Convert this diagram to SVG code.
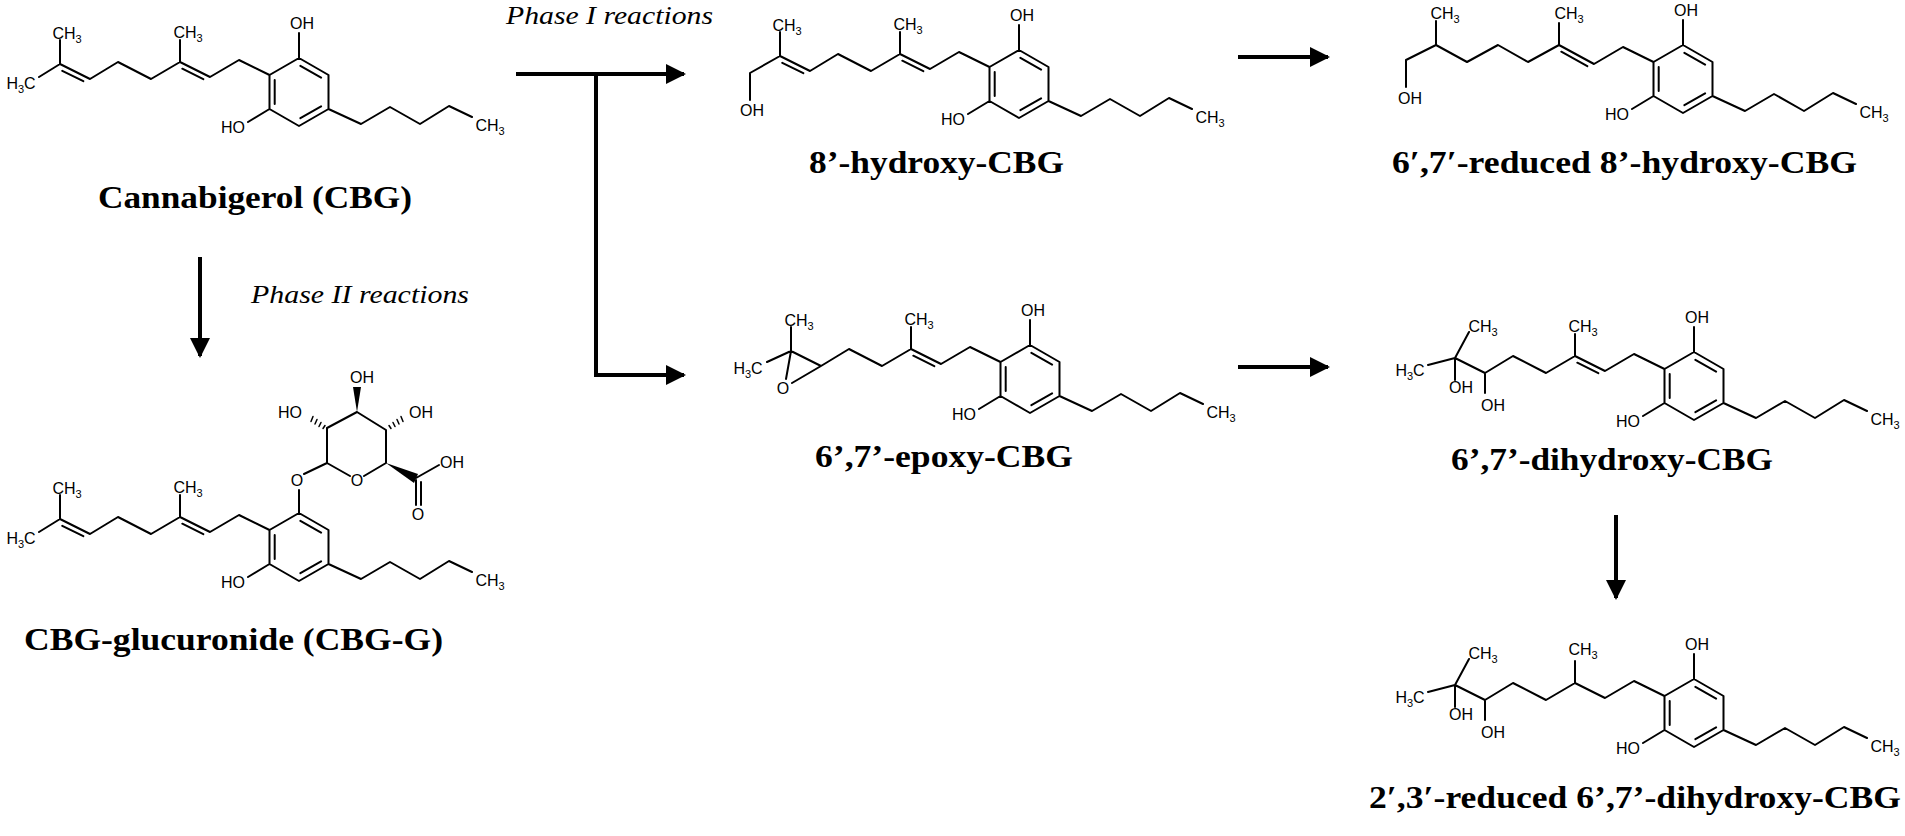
<svg xmlns="http://www.w3.org/2000/svg" width="1905" height="836" viewBox="0 0 1905 836">
<style>
.b{fill:none;stroke:#000;stroke-width:2;stroke-linejoin:round;stroke-linecap:round}
.t{font-family:"Liberation Sans",Arial,sans-serif;font-size:16px;fill:#000;text-anchor:middle}
.s{font-size:11px}
.lbl{font-family:"Liberation Serif","Times New Roman",serif;font-weight:bold;font-size:31px;fill:#000}
.it{font-family:"Liberation Serif","Times New Roman",serif;font-style:italic;font-size:26px;fill:#000}
.c{fill:none;stroke:#000;stroke-width:4}
</style>
<defs>
<marker id="ah" viewBox="0 0 10 10" refX="9" refY="5" markerWidth="5.5" markerHeight="5" orient="auto" markerUnits="strokeWidth"><path d="M0,0L10,5L0,10Z" fill="#000"/></marker>
</defs>
<rect width="1905" height="836" fill="#fff"/>

<g id="connectors">
<path class="c" d="M516,74H684" marker-end="url(#ah)"/>
<path class="c" d="M596,74V375H684" marker-end="url(#ah)"/>
<path class="c" d="M200,257V356" marker-end="url(#ah)"/>
<path class="c" d="M1238,57H1328" marker-end="url(#ah)"/>
<path class="c" d="M1238,367H1328" marker-end="url(#ah)"/>
<path class="c" d="M1616,515V598" marker-end="url(#ah)"/>
<text class="it" x="506" y="24" textLength="207" lengthAdjust="spacingAndGlyphs">Phase I reactions</text>
<text class="it" x="251" y="303" textLength="218" lengthAdjust="spacingAndGlyphs">Phase II reactions</text>
</g>

<!-- CBG -->
<g id="cbg">
<path class="b" d="M39,77L60,64L90,79L118,62L151,79L180,62L210,77L239,60L269.5,75M60,64V40M62.3,70.8L83.3,81.2M180,62V40M182.3,68.7L203.3,79.2M269.5,75L299,58L328.5,75L328.5,109L299,126L269.5,109ZM274.7,80V104M300.4,65.8L321.1,77.6M321.1,106.4L300.4,118.2M299,58V33M269.5,109L248,122M328.5,109L361,124L390,107L420,124L449,106L472,117"/>
<text class="t" x="21" y="89">H<tspan class="s" dy="4">3</tspan><tspan dy="-4">C</tspan></text>
<text class="t" x="67" y="39">CH<tspan class="s" dy="4">3</tspan></text>
<text class="t" x="188" y="38">CH<tspan class="s" dy="4">3</tspan></text>
<text class="t" x="302" y="29">OH</text>
<text class="t" x="233" y="133">HO</text>
<text class="t" x="490" y="131">CH<tspan class="s" dy="4">3</tspan></text>
<text class="lbl" x="98" y="208" textLength="314" lengthAdjust="spacingAndGlyphs">Cannabigerol (CBG)</text>
</g>

<!-- CBG-G -->
<g id="cbg-g">
<g transform="translate(0,455)">
<path class="b" d="M39,77L60,64L90,79L118,62L151,79L180,62L210,77L239,60L269.5,75M60,64V40M62.3,70.8L83.3,81.2M180,62V40M182.3,68.7L203.3,79.2M269.5,75L299,58L328.5,75L328.5,109L299,126L269.5,109ZM274.7,80V104M300.4,65.8L321.1,77.6M321.1,106.4L300.4,118.2M299,58V35M269.5,109L248,122M328.5,109L361,124L390,107L420,124L449,106L472,117"/>
<text class="t" x="21" y="89">H<tspan class="s" dy="4">3</tspan><tspan dy="-4">C</tspan></text>
<text class="t" x="67" y="39">CH<tspan class="s" dy="4">3</tspan></text>
<text class="t" x="188" y="38">CH<tspan class="s" dy="4">3</tspan></text>
<text class="t" x="233" y="133">HO</text>
<text class="t" x="490" y="131">CH<tspan class="s" dy="4">3</tspan></text>
</g>
<path class="b" d="M304,474L327,463L350,476M364,476L386,463L386,430L357,412L327,428L327,463M416,478L439,465M416,480V505M421,482V505"/>
<polygon points="357,412 353,387 361,387" fill="#000"/>
<polygon points="386,463 414,483 418,474" fill="#000"/>
<path class="b" style="stroke-width:1.5" d="M323,428.5l2,-3M319,426.5l2,-4M315,424l2,-4.5M311,421.5l2,-5M391,428.5l-2,-3M395,426.5l-2,-4M399,424l-2,-4.5M403,421.5l-2,-5"/>
<text class="t" x="297" y="486">O</text>
<text class="t" x="357" y="486">O</text>
<text class="t" x="362" y="383">OH</text>
<text class="t" x="290" y="418">HO</text>
<text class="t" x="421" y="418">OH</text>
<text class="t" x="452" y="468">OH</text>
<text class="t" x="418" y="520">O</text>
<text class="lbl" x="24" y="650" textLength="419" lengthAdjust="spacingAndGlyphs">CBG-glucuronide (CBG-G)</text>
</g>

<!-- 8'-hydroxy-CBG -->
<g id="hydroxy8">
<g transform="translate(720,-8)">
<path class="b" d="M30,108V81L60,64L90,79L118,62L151,79L180,62L210,77L239,60L269.5,75M60,64V40M62.3,70.8L83.3,81.2M180,62V40M182.3,68.7L203.3,79.2M269.5,75L299,58L328.5,75L328.5,109L299,126L269.5,109ZM274.7,80V104M300.4,65.8L321.1,77.6M321.1,106.4L300.4,118.2M299,58V33M269.5,109L248,122M328.5,109L361,124L390,107L420,124L449,106L472,117"/>
<text class="t" x="32" y="124">OH</text>
<text class="t" x="67" y="39">CH<tspan class="s" dy="4">3</tspan></text>
<text class="t" x="188" y="38">CH<tspan class="s" dy="4">3</tspan></text>
<text class="t" x="302" y="29">OH</text>
<text class="t" x="233" y="133">HO</text>
<text class="t" x="490" y="131">CH<tspan class="s" dy="4">3</tspan></text>
</g>
<text class="lbl" x="809" y="173" textLength="255" lengthAdjust="spacingAndGlyphs">8’-hydroxy-CBG</text>
</g>

<!-- 6',7'-epoxy-CBG -->
<g id="epoxy">
<g transform="translate(731,287)">
<path class="b" d="M36,75L60,64L90,79L118,62L151,79L180,62L210,77L239,60L269.5,75M60,64V40M60,64L55,92M90,79L61,96M180,62V40M182.3,68.7L203.3,79.2M269.5,75L299,58L328.5,75L328.5,109L299,126L269.5,109ZM274.7,80V104M300.4,65.8L321.1,77.6M321.1,106.4L300.4,118.2M299,58V33M269.5,109L248,122M328.5,109L361,124L390,107L420,124L449,106L472,117"/>
<text class="t" x="17" y="87">H<tspan class="s" dy="4">3</tspan><tspan dy="-4">C</tspan></text>
<text class="t" x="52" y="107">O</text>
<text class="t" x="68" y="39">CH<tspan class="s" dy="4">3</tspan></text>
<text class="t" x="188" y="38">CH<tspan class="s" dy="4">3</tspan></text>
<text class="t" x="302" y="29">OH</text>
<text class="t" x="233" y="133">HO</text>
<text class="t" x="490" y="131">CH<tspan class="s" dy="4">3</tspan></text>
</g>
<text class="lbl" x="815" y="467" textLength="258" lengthAdjust="spacingAndGlyphs">6’,7’-epoxy-CBG</text>
</g>

<!-- 6',7'-reduced 8'-hydroxy-CBG -->
<g id="reduced8">
<g transform="translate(1384,-13)">
<path class="b" d="M22,100V73L52,58L83,75L114,58L144,75L175,58L210,77L239,60L269.5,75M52,58V34M175,58V36M177.3,64.7L203.3,79.2M269.5,75L299,58L328.5,75L328.5,109L299,126L269.5,109ZM274.7,80V104M300.4,65.8L321.1,77.6M321.1,106.4L300.4,118.2M299,58V33M269.5,109L248,122M328.5,109L361,124L390,107L420,124L449,106L472,117"/>
<text class="t" x="26" y="117">OH</text>
<text class="t" x="61" y="32">CH<tspan class="s" dy="4">3</tspan></text>
<text class="t" x="185" y="32">CH<tspan class="s" dy="4">3</tspan></text>
<text class="t" x="302" y="29">OH</text>
<text class="t" x="233" y="133">HO</text>
<text class="t" x="490" y="131">CH<tspan class="s" dy="4">3</tspan></text>
</g>
<text class="lbl" x="1392" y="173" textLength="465" lengthAdjust="spacingAndGlyphs">6′,7′-reduced 8’-hydroxy-CBG</text>
</g>

<!-- 6',7'-dihydroxy-CBG -->
<g id="dihydroxy">
<g transform="translate(1395,294)">
<path class="b" d="M33,71L60,64L90,79L118,62L151,79L180,62L210,77L239,60L269.5,75M60,64L74,38M60,64V86M90,79V99M180,62V40M182.3,68.7L203.3,79.2M269.5,75L299,58L328.5,75L328.5,109L299,126L269.5,109ZM274.7,80V104M300.4,65.8L321.1,77.6M321.1,106.4L300.4,118.2M299,58V33M269.5,109L248,122M328.5,109L361,124L390,107L420,124L449,106L472,117"/>
<text class="t" x="15" y="82">H<tspan class="s" dy="4">3</tspan><tspan dy="-4">C</tspan></text>
<text class="t" x="88" y="38">CH<tspan class="s" dy="4">3</tspan></text>
<text class="t" x="66" y="99">OH</text>
<text class="t" x="98" y="117">OH</text>
<text class="t" x="188" y="38">CH<tspan class="s" dy="4">3</tspan></text>
<text class="t" x="302" y="29">OH</text>
<text class="t" x="233" y="133">HO</text>
<text class="t" x="490" y="131">CH<tspan class="s" dy="4">3</tspan></text>
</g>
<text class="lbl" x="1451" y="470" textLength="322" lengthAdjust="spacingAndGlyphs">6’,7’-dihydroxy-CBG</text>
</g>

<!-- 2',3'-reduced 6',7'-dihydroxy-CBG -->
<g id="reduced23">
<g transform="translate(1395,621)">
<path class="b" d="M33,71L60,64L90,79L118,62L151,79L180,62L210,77L239,60L269.5,75M60,64L74,38M60,64V86M90,79V99M180,62V40M269.5,75L299,58L328.5,75L328.5,109L299,126L269.5,109ZM274.7,80V104M300.4,65.8L321.1,77.6M321.1,106.4L300.4,118.2M299,58V33M269.5,109L248,122M328.5,109L361,124L390,107L420,124L449,106L472,117"/>
<text class="t" x="15" y="82">H<tspan class="s" dy="4">3</tspan><tspan dy="-4">C</tspan></text>
<text class="t" x="88" y="38">CH<tspan class="s" dy="4">3</tspan></text>
<text class="t" x="66" y="99">OH</text>
<text class="t" x="98" y="117">OH</text>
<text class="t" x="188" y="34">CH<tspan class="s" dy="4">3</tspan></text>
<text class="t" x="302" y="29">OH</text>
<text class="t" x="233" y="133">HO</text>
<text class="t" x="490" y="131">CH<tspan class="s" dy="4">3</tspan></text>
</g>
<text class="lbl" x="1369" y="808" textLength="532" lengthAdjust="spacingAndGlyphs">2′,3′-reduced 6’,7’-dihydroxy-CBG</text>
</g>
</svg>
